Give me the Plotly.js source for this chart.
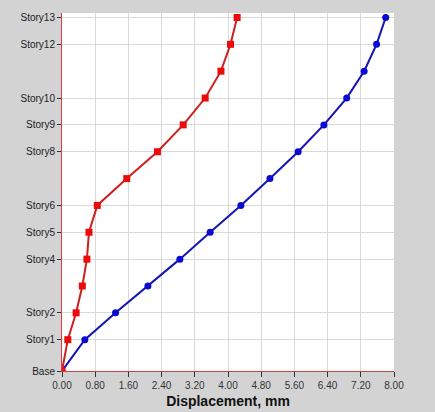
<!DOCTYPE html>
<html>
<head>
<meta charset="utf-8">
<script src="https://cdn.plot.ly/plotly-3.0.1.min.js"></script>
<style>
html,body{margin:0;padding:0;background:#ffffff;}
#chart{position:absolute;left:0;top:0;width:435px;height:412px;}
</style>
</head>
<body>
<div id="chart"></div>
<script>
// Story names and elevations (m)
const stories = ["Base","Story1","Story2","Story3","Story4","Story5","Story6","Story7","Story8","Story9","Story10","Story11","Story12","Story13"];
const elevations = [0,3.5,6.5,9.5,12.5,15.5,18.5,21.5,24.5,27.5,30.5,33.5,36.5,39.5];
// Labeled story ticks
const tickStories = ["Base","Story1","Story2","Story4","Story5","Story6","Story8","Story9","Story10","Story12","Story13"];
const tickElev = [0,3.5,6.5,12.5,15.5,18.5,24.5,27.5,30.5,36.5,39.5];
// Displacement series (mm)
const redDisp = [0,0.14,0.34,0.49,0.6,0.65,0.85,1.56,2.3,2.92,3.45,3.83,4.06,4.22];
const blueDisp = [0,0.55,1.29,2.07,2.84,3.57,4.31,5.01,5.69,6.31,6.86,7.28,7.58,7.8];
// X tick values
const xTicks = [0,0.8,1.6,2.4,3.2,4.0,4.8,5.6,6.4,7.2,8.0];

const traces = [
  {x: blueDisp, y: elevations, text: stories, mode: "lines+markers", type: "scatter",
   line: {color: "#1414b4", width: 2}, marker: {color: "#0a0ad2", size: 7, symbol: "circle"}, showlegend: false},
  {x: redDisp, y: elevations, text: stories, mode: "lines+markers", type: "scatter",
   line: {color: "#cc2020", width: 2}, marker: {color: "#ee0a0a", size: 7, symbol: "square"}, showlegend: false}
];

const layout = {
  width: 435, height: 412,
  paper_bgcolor: "#d3d3d3",
  plot_bgcolor: "#ffffff",
  margin: {l: 62, r: 41, t: 13, b: 41},
  font: {family: "Liberation Sans, Arial, sans-serif", size: 10, color: "#222"},
  xaxis: {
    range: [0, 8], tickvals: xTicks, ticktext: xTicks.map(v => v.toFixed(2)),
    showgrid: true, gridcolor: "#d9d9d9", gridwidth: 1,
    showline: true, linecolor: "#d04040", linewidth: 1, mirror: false,
    ticks: "outside", ticklen: 5, tickcolor: "#333", zeroline: false,
    tickfont: {size: 10, color: "#333"},
    title: {text: "<b>Displacement, mm</b>", font: {size: 14, color: "#111"}, standoff: 6}
  },
  yaxis: {
    range: [0, 40], tickvals: tickElev, ticktext: tickStories,
    showgrid: true, gridcolor: "#d9d9d9", gridwidth: 1,
    showline: true, linecolor: "#d04040", linewidth: 1,
    ticks: "outside", ticklen: 4, tickcolor: "#333", zeroline: false,
    tickfont: {size: 10, color: "#222"}
  }
};

Plotly.newPlot("chart", traces, layout, {displayModeBar: false, staticPlot: true});
</script>
</body>
</html>
